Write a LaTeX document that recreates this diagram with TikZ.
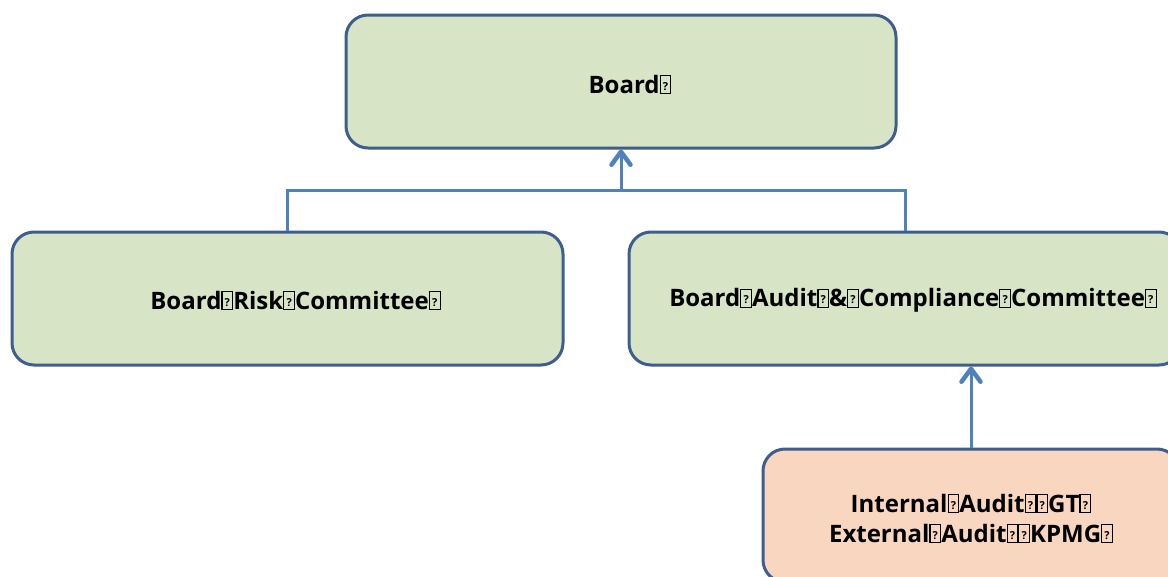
\documentclass[tikz,border=0pt]{standalone}
\usepackage{fontspec}
\setmainfont{Open Sans}
\usetikzlibrary{arrows.meta}
\definecolor{boxgreen}{HTML}{D7E4C6}
\definecolor{boxpeach}{HTML}{F9D6C0}
\definecolor{boxedge}{HTML}{3D5E8E}
\definecolor{linkblue}{HTML}{4F81BD}
% framed placeholder for a glyph the font could not show
\newcommand\nog{{\fboxsep=0pt\fboxrule=1.1pt\fbox{\makebox[0.4em]{\rule{0pt}{0.7em}\raisebox{0.12em}{\fontsize{11}{11}\selectfont ?}}}}}
\begin{document}
\begin{tikzpicture}[x=1pt,y=-1pt,
  unit/.style={draw=boxedge,line width=3pt,rounded corners=22pt,fill=boxgreen,
    minimum height=133pt,inner sep=0pt},
  tag/.style={align=center,inner sep=0pt,font=\fontsize{24}{30}\selectfont\bfseries},
  link/.style={draw=linkblue,line width=3pt},
  up/.style={link,-{Straight Barb[length=13pt,width=19pt,line width=4.5pt,round]}}]
\useasboundingbox (0,0) rectangle (1168,576);
\clip (0,0) rectangle (1168,576);
\node[unit,minimum width=550pt] (board) at (621,81.5) {};
\node[unit,minimum width=551pt] (risk) at (287.5,298.5) {};
\node[unit,minimum width=552pt] (audit) at (905,298.5) {};
\node[unit,fill=boxpeach,minimum width=416pt] (internal) at (971,515.5) {};
\node[tag] (boardtext) at ([xshift=9pt,yshift=-3pt]board.center) {Board\nog};
\node[tag] (risktext) at ([xshift=8pt,yshift=-2pt]risk.center)
  {Board\nog Risk\nog Committee\nog};
\node[tag] (audittext) at ([xshift=8pt,yshift=-2pt]audit.center)
  {Board\nog Audit\nog\&\nog Compliance\nog Committee\nog};
\node[tag] (internaltext) at ([yshift=-3pt]internal.center)
  {Internal\nog Audit\nog\nog GT\nog\\External\nog Audit\nog\nog KPMG\nog};
\coordinate (join) at (621,190);
\draw[link] (risk.north) |- (join) -| (audit.north);
\draw[up] (join) -- (board.south);
\draw[up] (internal.north) -- (internal.north |- audit.south);
\end{tikzpicture}
\end{document}
